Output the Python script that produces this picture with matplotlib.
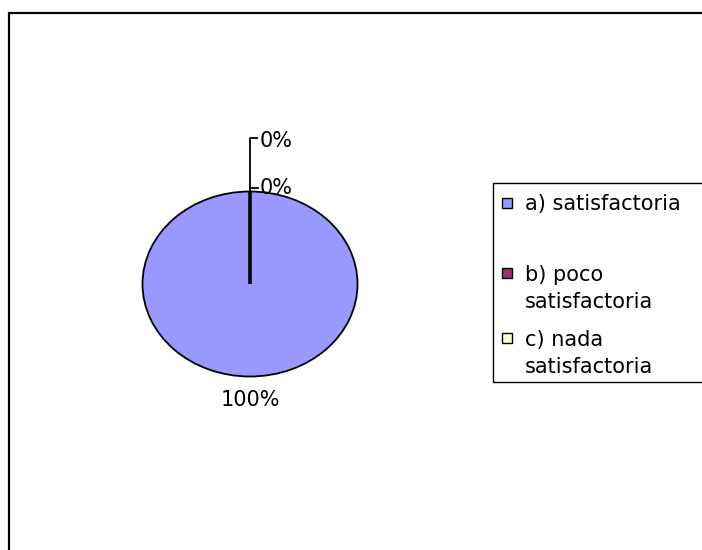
import matplotlib.pyplot as plt
from matplotlib.patches import Rectangle

categories = ["a) satisfactoria", "b) poco\nsatisfactoria", "c) nada\nsatisfactoria"]
values = [100, 0, 0]
colors = ["#9999FF", "#993366", "#FFFFCC"]

W, H = 702, 550


def fx(px):
    return px / W


def fy(py):
    return 1 - py / H


def main():
    plt.rcParams['font.family'] = ['DejaVu Sans']
    fig = plt.figure(figsize=(W / 100, H / 100), dpi=100)
    ax = fig.add_axes([0, 0, 1, 1])

    wedges, _ = ax.pie(values, colors=colors, startangle=90, counterclock=False,
                       wedgeprops=dict(edgecolor="black", linewidth=1.3))
    for w in wedges[1:]:
        w.set_linewidth(2.2)

    # center (250, 284) px, radii 107.5 x 92.5 px -> ellipse
    cx, cy, rx, ry = 250, 284, 107.5, 92.5
    ax.set_aspect('auto')
    ax.set_xlim(-cx / rx, (W - cx) / rx)
    ax.set_ylim((cy - H) / ry, cy / ry)
    ax.axis('off')

    total = sum(values)
    pct = [f"{v / total * 100:.0f}%" for v in values]

    def dy(py):
        return (cy - py) / ry

    def dx(px):
        return (px - cx) / rx

    # label of the big slice, below the pie
    ax.text(0, dy(406), pct[0], ha="center", va="baseline", fontsize=15)

    # leader lines for the empty slices
    ax.plot([0, 0, dx(258)], [1, dy(138), dy(138)], color="black", lw=1.3,
            solid_capstyle="butt")
    ax.plot([0, dx(258)], [dy(188), dy(188)], color="black", lw=1.3)
    ax.text(dx(260), dy(194), pct[1], ha="left", va="baseline", fontsize=15)
    ax.text(dx(260), dy(147), pct[2], ha="left", va="baseline", fontsize=15)

    # chart area border
    fig.patches.append(Rectangle((fx(9), fy(560)), 1.0, fy(13) - fy(560),
                                 transform=fig.transFigure, fill=False,
                                 edgecolor="black", linewidth=1.6))

    # legend box
    fig.patches.append(Rectangle((fx(493), fy(382)), 1.0, fy(183) - fy(382),
                                 transform=fig.transFigure, fill=False,
                                 edgecolor="black", linewidth=1.0))

    # baseline of first / last line of each entry
    first_base = [210, 280, 345]
    last_base = [210, 308, 373]
    for label, col, y0, y1 in zip(categories, colors, first_base, last_base):
        fig.patches.append(Rectangle((fx(502), fy(y0 - 2)), 10 / W, 10 / H,
                                     transform=fig.transFigure, facecolor=col,
                                     edgecolor="black", linewidth=1.0))
        fig.text(fx(525), fy(y1), label, ha="left", va="baseline",
                 fontsize=15, linespacing=1.46,
                 transform=fig.transFigure)

    plt.savefig("out.png", dpi=100)


if __name__ == "__main__":
    main()
